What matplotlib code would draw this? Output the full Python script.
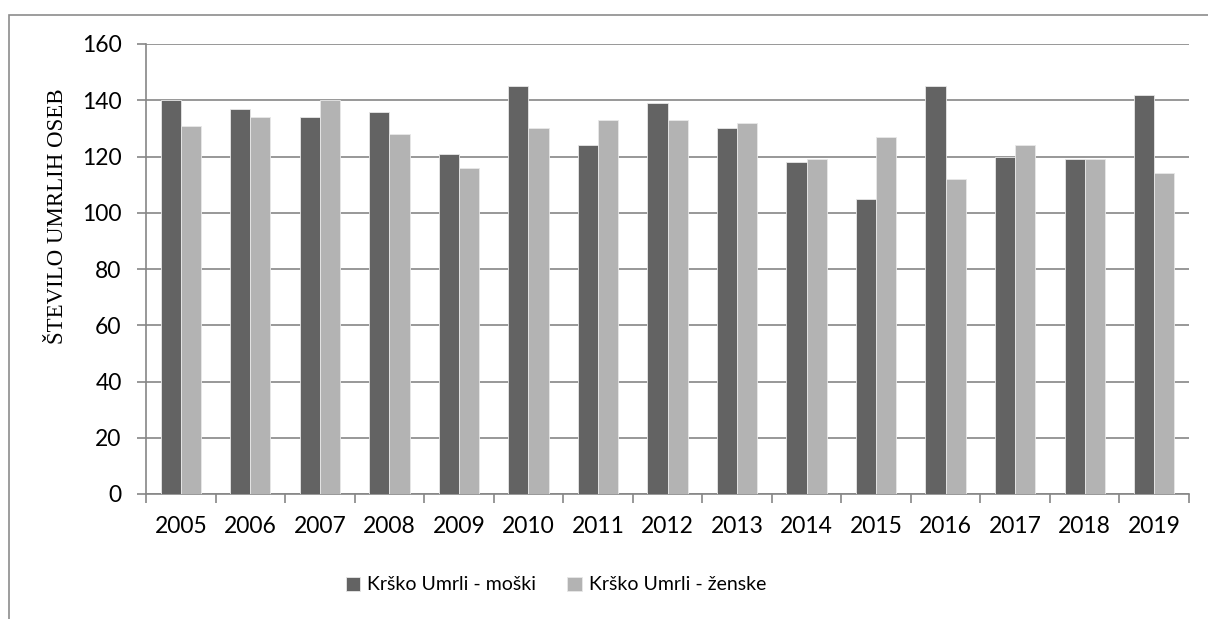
import matplotlib.pyplot as plt
import numpy as np
from matplotlib.patches import Rectangle

# data
years = ['2005', '2006', '2007', '2008', '2009', '2010', '2011', '2012',
         '2013', '2014', '2015', '2016', '2017', '2018', '2019']
moski = [140, 137, 134, 136, 121, 145, 124, 139, 130, 118, 105, 145, 120, 119, 142]
zenske = [131, 134, 140, 128, 116, 130, 133, 133, 132, 119, 127, 112, 124, 119, 114]
y_ticks = [0, 20, 40, 60, 80, 100, 120, 140, 160]

W, H = 1208, 619
fig = plt.figure(figsize=(W / 100, H / 100), dpi=100)
ax = fig.add_axes([146 / W, 1 - 494 / H, (1189 - 146) / W, (494 - 44) / H])

grid_c = '#868686'
x = np.arange(len(years))
bw = 0.29
ax.bar(x - bw / 2, moski, bw, color='#636363', edgecolor='#e8e8e8', linewidth=0.6,
       label='Krško Umrli - moški', zorder=3)
ax.bar(x + bw / 2, zenske, bw, color='#b3b3b3', edgecolor='#e8e8e8', linewidth=0.6,
       label='Krško Umrli - ženske', zorder=3)

ax.set_xlim(-0.5, len(years) - 0.5)
ax.set_ylim(0, 160)
ax.set_yticks(y_ticks)
ax.set_xticks(x)
ax.set_xticklabels(years)
ax.set_xticks(np.arange(-0.5, len(years)), minor=True)
ax.grid(axis='y', color=grid_c, linewidth=1.2, zorder=0)

for s in ['top', 'right']:
    ax.spines[s].set_visible(False)
for s in ['left', 'bottom']:
    ax.spines[s].set_color(grid_c)
    ax.spines[s].set_linewidth(1.2)

font = 'Lato'
ax.tick_params(axis='y', length=6.5, color=grid_c, width=1.2, labelsize=16.5, pad=11)
ax.tick_params(axis='x', which='major', length=0, labelsize=16.5, pad=16)
ax.tick_params(axis='x', which='minor', length=6.5, color=grid_c, width=1.2)
for lab in ax.get_xticklabels() + ax.get_yticklabels():
    lab.set_fontfamily(font)

ax.set_ylabel('ŠTEVILO UMRLIH OSEB', family='Liberation Serif', fontsize=16.5)
ax.yaxis.set_label_coords((68 - 146) / (1189 - 146), (494 - 216) / (494 - 44))

leg = fig.legend(loc='center', bbox_to_anchor=(556 / W, 1 - 585 / H), ncol=2, frameon=False,
                 prop={'family': font, 'size': 14}, handlelength=0.75, handleheight=0.75,
                 handletextpad=0.35, columnspacing=1.6)

# outer chart frame
fig.patches.append(Rectangle((9 / W, -0.1), 1.2, 1 - 15 / H + 0.1, transform=fig.transFigure,
                             fill=False, edgecolor='#8c8c8c', linewidth=1.2))

fig.savefig('out.png', dpi=100)
